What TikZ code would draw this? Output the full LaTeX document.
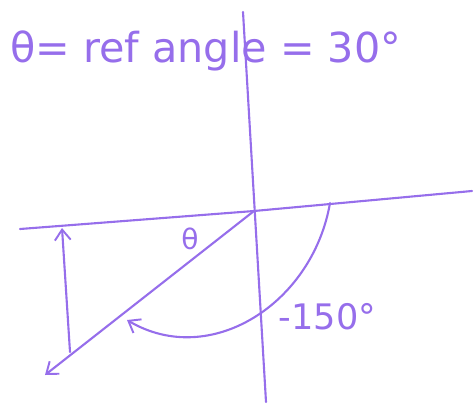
\documentclass[tikz,border=0pt]{standalone}
\usepackage{fontspec}
\setmainfont{DejaVu Sans}
\usetikzlibrary{arrows.meta}
\definecolor{pen}{RGB}{150,110,235}

\begin{document}
\begin{tikzpicture}[
        >={Straight Barb[length=6pt, width=9pt, line width=1.1pt]},
        stroke/.style={draw=pen, line width=1.2pt, line cap=round},
        label/.style={text=pen, inner sep=0pt, align=center}
    ]
    \useasboundingbox (0, 0) rectangle (9.48, 8.08);

    % --- Title ---
    \node[label, font=\fontsize{23.5}{25}\selectfont, anchor=west] (title) at (0.2, 7.06) {θ= ref angle = 30°};

    % --- Axes ---
    \coordinate (origin) at (5.08, 3.86);
    \coordinate (xleft) at (0.40, 3.50);
    \coordinate (xright) at (9.44, 4.26);
    \coordinate (ytop) at (4.86, 7.84);
    \coordinate (ybottom) at (5.32, 0.04);
    \draw[stroke] (xleft) -- (origin) -- (xright);
    \draw[stroke] (ytop) -- (ybottom);

    % --- Terminal side & reference angle ---
    \coordinate (raytip) at (0.90, 0.58);
    \coordinate (refbottom) at (1.40, 1.04);
    \coordinate (reftop) at (1.24, 3.52);
    \draw[stroke, ->] (origin) -- (raytip);
    \draw[stroke, ->] (refbottom) -- (reftop);
    \node[label, font=\fontsize{16}{17}\selectfont] (theta) at (3.80, 3.30) {θ};

    % --- Rotation arc ---
    \coordinate (arcstart) at (6.60, 4.02);
    \coordinate (arcend) at (2.54, 1.68);
    \draw[stroke, ->] (arcstart) .. controls (6.25, 2.0) and (4.2, 0.7) .. (arcend);
    \node[label, font=\fontsize{20}{21}\selectfont] (angle) at (6.55, 1.74) {-150°};

\end{tikzpicture}
\end{document}
